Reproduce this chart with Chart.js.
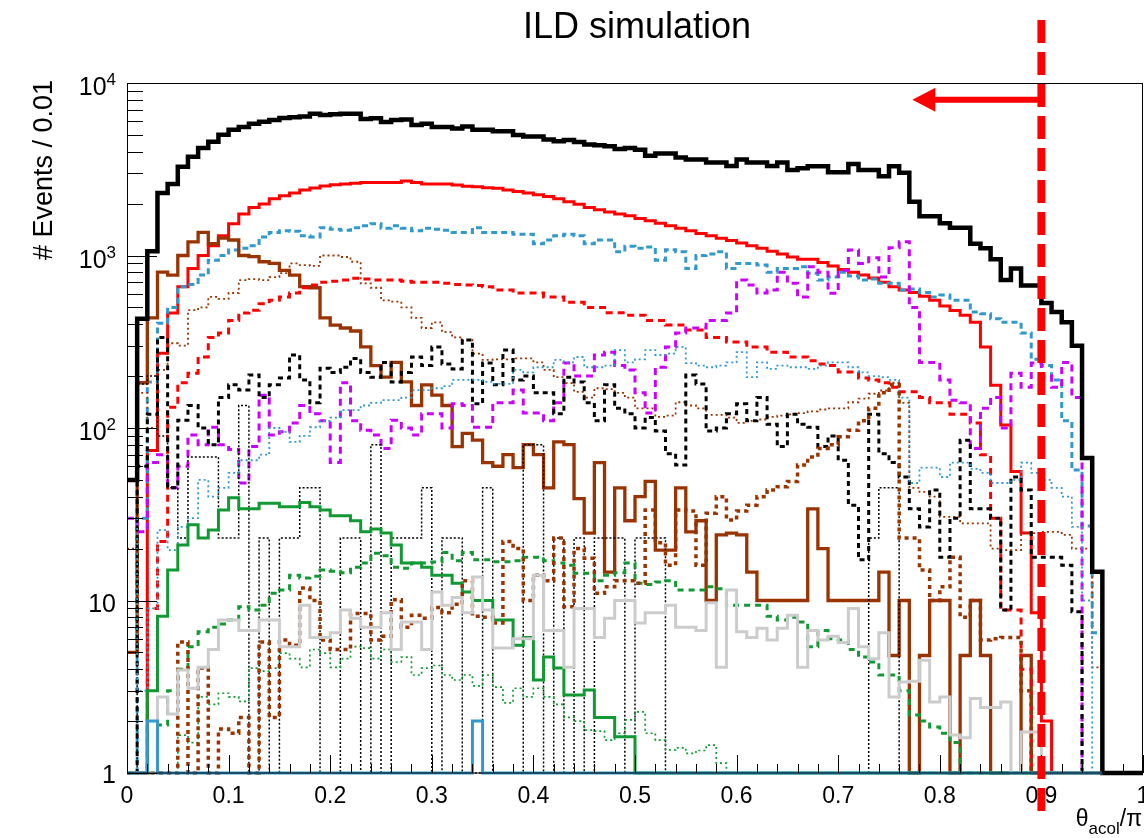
<!DOCTYPE html>
<html>
<head>
<meta charset="utf-8">
<title>ILD simulation</title>
<script src="https://cdn.jsdelivr.net/npm/chart.js@4.4.1/dist/chart.umd.min.js"></script>
<style>
  html, body { margin: 0; padding: 0; background: #fff; overflow: hidden; }
  #c { display: block; }
</style>
</head>
<body>
<canvas id="c" width="1144" height="838"></canvas>
<script>
// Events per bin, 100 bins of 0.01 in theta_acol/pi, 0 = empty bin
var blackSolid = [
  50, 430, 1060, 2300, 2600, 3270, 3740, 4200, 4560, 5020,
  5350, 5550, 5800, 5960, 6100, 6260, 6340, 6400, 6640, 6520,
  6600, 6640, 6640, 6190, 6250, 5950, 6100, 6150, 5700, 5800,
  5550, 5550, 5450, 5600, 5350, 5350, 5250, 5250, 5000, 4900,
  4900, 4700, 4600, 4680, 4550, 4400, 4360, 4300, 4150, 4200,
  4100, 3790, 3900, 3900, 3700, 3600, 3600, 3460, 3460, 3300,
  3600, 3460, 3460, 3300, 3460, 3130, 3200, 3290, 3290, 3040,
  3040, 3390, 3130, 3130, 2880, 3290, 3020, 2050, 1690, 1690,
  1540, 1450, 1450, 1170, 1100, 950, 720, 840, 670, 670,
  530, 470, 410, 300, 67, 14.7, 0, 0, 0, 0
];
var redSolid = [
  0, 0, 74, 271, 464, 660, 840, 1000, 1140, 1300,
  1530, 1740, 1900, 1990, 2130, 2220, 2300, 2400, 2460, 2530,
  2570, 2600, 2620, 2650, 2650, 2650, 2650, 2700, 2650, 2600,
  2600, 2600, 2560, 2520, 2500, 2470, 2450, 2400, 2350, 2300,
  2250, 2200, 2130, 2050, 1980, 1900, 1840, 1790, 1740, 1700,
  1640, 1590, 1540, 1490, 1440, 1390, 1340, 1300, 1260, 1220,
  1180, 1140, 1100, 1060, 1020, 980, 950, 950, 910, 870,
  830, 800, 770, 740, 700, 660, 630, 610, 580, 550,
  510, 480, 450, 410, 295, 177, 104, 56, 24.6, 8.5,
  2, 0, 0, 0, 0, 0, 0, 0, 0, 0
];
var blueDashed = [
  0, 30, 185, 405, 500, 660, 680, 770, 940, 1000,
  1076, 1100, 1140, 1280, 1360, 1390, 1380, 1300, 1280, 1450,
  1420, 1400, 1450, 1490, 1530, 1440, 1490, 1440, 1390, 1440,
  1420, 1400, 1360, 1360, 1450, 1360, 1360, 1360, 1330, 1330,
  1170, 1230, 1300, 1330, 1300, 1170, 1230, 1230, 1050, 1130,
  1100, 1120, 940, 1080, 1050, 840, 1000, 1020, 1050, 840,
  900, 900, 880, 800, 840, 840, 860, 790, 720, 750,
  800, 760, 720, 730, 690, 690, 630, 640, 610, 575,
  590, 550, 550, 470, 460, 430, 410, 410, 355, 250,
  230, 190, 110, 57, 27, 6.5, 0, 0, 0, 0
];
var brownSolid = [
  5, 183, 435, 800, 770, 1000, 1200, 1360, 1170, 1260,
  1230, 1000, 985, 920, 900, 820, 770, 660, 650, 435,
  395, 380, 365, 295, 230, 197, 240, 185, 135, 178,
  155, 135, 78, 93, 85, 63, 60, 70, 59, 80,
  70, 45, 83, 80, 39, 24.6, 63, 14.6, 45, 29,
  40, 49, 19.6, 19.6, 45, 25, 29, 10, 24, 24.6,
  24, 14.6, 10, 10, 10, 10, 10, 34, 20, 10,
  10, 10, 10, 10, 14.6, 4.8, 10, 0, 4.8, 10,
  10, 0, 4.8, 10, 4.8, 0, 0, 0, 4.8, 0,
  0, 0, 0, 0, 0, 0, 0, 0, 0, 0
];
var brownDotted = [
  20, 160, 100, 217, 310, 300, 482, 500, 575, 560,
  606, 720, 730, 720, 750, 790, 900, 880, 870, 1000,
  1000, 980, 920, 690, 650, 550, 540, 500, 435, 380,
  410, 360, 335, 324, 270, 248, 250, 250, 253, 253,
  240, 217, 197, 182, 162, 150, 170, 168, 160, 150,
  130, 130, 116, 118, 141, 135, 130, 119, 119, 115,
  107, 110, 112, 116, 118, 120, 122, 125, 128, 130,
  130, 141, 148, 158, 165, 183, 140, 45, 42.6, 40,
  30.5, 30.5, 28, 28, 28, 20, 19.6, 19.6, 24.6, 24.6,
  25, 25, 24, 20, 20, 4.1, 0, 0, 0, 0
];
var redDashed = [
  0, 0, 9, 22, 132, 183, 208, 258, 335, 355,
  420, 464, 482, 525, 550, 575, 606, 650, 675, 700,
  710, 720, 738, 730, 720, 720, 720, 710, 700, 700,
  700, 690, 680, 675, 670, 660, 630, 630, 606, 606,
  606, 575, 575, 535, 535, 500, 500, 465, 465, 450,
  450, 420, 420, 395, 395, 370, 370, 335, 335, 315,
  315, 295, 295, 275, 275, 258, 258, 245, 235, 230,
  211, 211, 195, 190, 183, 172, 162, 162, 150, 140,
  140, 120, 120, 107, 70, 30, 8.8, 8.8, 4, 0,
  0, 0, 0, 0, 0, 0, 0, 0, 0, 0
];
var magentaDashed = [
  30, 25, 63, 70, 45, 60, 91, 80, 101, 80,
  75, 48, 78, 155, 91, 95, 107, 135, 121, 110,
  63, 183, 110, 97, 91, 76, 111, 100, 91, 121,
  121, 100, 138, 135, 101, 101, 140, 140, 166, 122,
  122, 110, 140, 238, 200, 200, 265, 275, 230, 217,
  160, 122, 225, 295, 355, 380, 380, 420, 420, 464,
  720, 675, 606, 630, 800, 690, 575, 860, 800, 605,
  820, 1076, 900, 970, 750, 1110, 1200, 500, 240, 240,
  190, 145, 140, 76, 130, 150, 100, 208, 172, 238,
  200, 172, 240, 150, 0, 0, 0, 0, 0, 0
];
var blackDashed = [
  0, 60, 120, 335, 45, 111, 135, 100, 80, 150,
  178, 166, 203, 150, 178, 195, 265, 190, 140, 222,
  210, 225, 253, 210, 197, 240, 185, 210, 258, 230,
  295, 235, 220, 324, 138, 238, 178, 283, 190, 200,
  160, 160, 121, 197, 185, 140, 110, 178, 130, 121,
  100, 115, 96, 71, 61, 203, 180, 96, 100, 121,
  138, 110, 150, 105, 78, 120, 105, 101, 78, 90,
  65, 35.7, 17.2, 120, 71, 63, 52, 34, 26.7, 43.7,
  17.8, 30, 85, 34, 34, 30, 8.8, 52, 43.7, 17.8,
  17.8, 17.8, 16, 8.6, 0, 0, 0, 0, 0, 0
];
var blackDotted = [
  0, 180, 200, 90, 45, 23, 68, 68, 68, 23,
  23, 135, 0, 23, 0, 23, 23, 45, 45, 0,
  0, 23, 23, 0, 80, 0, 23, 23, 23, 45,
  0, 23, 23, 0, 0, 45, 0, 0, 0, 80,
  80, 0, 23, 0, 23, 0, 23, 23, 23, 0,
  23, 23, 23, 0, 0, 0, 0, 0, 0, 0,
  0, 0, 0, 0, 0, 0, 0, 0, 0, 0,
  0, 0, 0, 23, 45, 45, 0, 0, 0, 0,
  0, 0, 0, 0, 0, 0, 0, 0, 0, 0,
  0, 0, 0, 0, 0, 0, 0, 0, 0, 0
];
var blueDotted = [
  30, 3, 9, 25.6, 19.6, 26.7, 30, 50, 40, 45,
  55, 65, 65, 70, 100, 95, 83, 90, 101, 110,
  115, 127, 127, 135, 140, 145, 145, 150, 166, 166,
  170, 175, 190, 190, 190, 185, 180, 180, 217, 210,
  225, 225, 248, 240, 258, 225, 225, 230, 283, 240,
  250, 283, 265, 270, 295, 238, 230, 225, 230, 240,
  275, 197, 240, 220, 230, 225, 225, 220, 230, 240,
  240, 225, 210, 200, 197, 190, 150, 48, 59, 59,
  52, 63, 63, 58, 55, 48, 48, 50, 63, 55,
  50, 45, 40, 26.7, 10, 0, 0, 0, 0, 0
];
var greenSolid = [
  0, 0, 3, 8.1, 15, 21, 27.5, 23, 25.6, 33.5,
  39.4, 34, 34, 36.6, 36.6, 35, 35, 37, 35, 33.5,
  31, 31, 29, 25, 26, 24.6, 21, 16.5, 16.5, 15.6,
  14, 14, 12.6, 11.2, 10, 10, 7.7, 7.7, 5.5, 6.1,
  3.46, 4.7, 4.06, 2.83, 2.83, 3.03, 2.1, 2.1, 1.62, 1.62,
  0, 0, 0, 0, 0, 0, 0, 0, 0, 0,
  0, 0, 0, 0, 0, 0, 0, 0, 0, 0,
  0, 0, 0, 0, 0, 0, 0, 0, 0, 0,
  0, 0, 0, 0, 0, 0, 0, 0, 0, 0,
  0, 0, 0, 0, 0, 0, 0, 0, 0, 0
];
var greenDashed = [
  0, 0, 0, 1.9, 3, 4, 5.4, 6.6, 7, 7.3,
  7.7, 9.2, 8.8, 9.4, 11, 11.5, 14, 13.5, 13.8, 15,
  14.8, 14.5, 15.6, 16.5, 18.8, 18.2, 15.6, 15.4, 16.5, 16.5,
  16.7, 19, 17, 19, 17.2, 17.2, 16.8, 16.8, 17, 17.8,
  17.8, 17, 16.5, 16, 14.4, 14.4, 13, 14, 14.5, 16.5,
  12.6, 12.4, 12.8, 13, 11.5, 11.5, 11.5, 12, 11.7, 9.4,
  9.4, 9.4, 9.4, 8.1, 7.7, 8, 7.5, 5.4, 6.7, 6,
  5.9, 5.2, 4.7, 4.4, 3.7, 3.7, 3, 2.17, 2, 1.85,
  1.7, 1.5, 0, 0, 0, 0, 0, 0, 0, 0,
  0, 0, 0, 0, 0, 0, 0, 0, 0, 0
];
var greenDotted = [
  0, 0, 0, 0, 0, 1.66, 1.5, 2.76, 2.5, 2.9,
  2.76, 2.6, 4.06, 3.9, 4.06, 4.95, 4.6, 4.1, 5.2, 4.95,
  4.1, 4.6, 5.4, 5.3, 4.6, 5.2, 4.4, 4.7, 3.7, 4.06,
  4.2, 3.7, 3.46, 3.7, 3.2, 3.7, 3.15, 2.55, 3.1, 2.76,
  3.1, 2.76, 2.5, 2.1, 2.0, 1.77, 1.75, 1.55, 1.7, 2.03,
  2.26, 1.7, 1.55, 1.36, 1.4, 1.3, 1.35, 1.45, 1.14, 0,
  0, 0, 0, 0, 0, 0, 0, 0, 0, 0,
  0, 0, 0, 0, 0, 0, 0, 0, 0, 0,
  0, 0, 0, 0, 0, 0, 0, 0, 0, 0,
  0, 0, 0, 0, 0, 0, 0, 0, 0, 0
];
var brownDashed = [
  0, 0, 0, 0, 0, 5.75, 0, 4.06, 0, 1.8,
  1.7, 2.1, 0, 5.75, 2.1, 5.9, 5.5, 11.8, 10, 5.9,
  5.2, 5.2, 8.4, 8.4, 5.9, 6.2, 10.1, 7, 8.2, 7.9,
  9.1, 8.5, 9.5, 13, 8.1, 8, 7.4, 22, 20, 10,
  14, 13, 23, 9.2, 20, 17.6, 11, 12, 13, 13,
  12.6, 33.5, 21.6, 16, 33.5, 33, 16, 32, 40, 29.3,
  33, 35.7, 40, 43.7, 45.7, 49, 61, 68, 76, 80,
  89, 97, 110, 130, 160, 178, 23, 23, 15, 10,
  12, 17.8, 8, 10, 5.9, 6, 6.1, 6.1, 3, 0,
  0, 0, 0, 0, 0, 0, 0, 0, 0, 0
];
var graySolid = [
  0, 0, 0, 2.76, 2.2, 3.95, 3.1, 4.1, 5.2, 7.7,
  7.7, 6.7, 6.7, 7.7, 7.7, 5.4, 5.4, 9.4, 6.1, 6.1,
  6.5, 8.8, 7.9, 7, 7, 8.5, 5.2, 7.5, 7.5, 5.2,
  11.2, 9.4, 10.4, 8.5, 13.7, 8.8, 5.3, 5.3, 6, 6,
  14, 6.7, 6.7, 4.1, 9, 9, 6.1, 7.9, 10, 10,
  7.4, 8.5, 8.5, 9.4, 7, 7, 6.7, 9.7, 4.1, 11.5,
  6.6, 6.1, 6.9, 5.9, 6.9, 8.2, 4.1, 6.7, 5.9, 6.2,
  5.7, 9, 5.4, 4.6, 6.5, 2.76, 3.37, 3.4, 4.5, 2.58,
  2.76, 1.66, 1.6, 2.7, 2.4, 2.4, 2.58, 0, 1.73, 1.73,
  0, 0, 0, 0, 0, 0, 0, 0, 0, 0
];
var blueSolid = [
  0, 0, 2, 0, 0, 0, 0, 0, 0, 0,
  0, 0, 0, 0, 0, 0, 0, 0, 0, 0,
  0, 0, 0, 0, 0, 0, 0, 0, 0, 0,
  0, 0, 0, 0, 2, 0, 0, 0, 0, 0,
  0, 0, 0, 0, 0, 0, 0, 0, 0, 0,
  0, 0, 0, 0, 0, 0, 0, 0, 0, 0,
  0, 0, 0, 0, 0, 0, 0, 0, 0, 0,
  0, 0, 0, 0, 0, 0, 0, 0, 0, 0,
  0, 0, 0, 0, 0, 0, 0, 0, 0, 0,
  0, 0, 0, 0, 0, 0
];

var xTickLabels = ['0', '0.1', '0.2', '0.3', '0.4', '0.5', '0.6', '0.7', '0.8', '0.9', '1'];
var yDecades = [0, 1, 2, 3, 4];
var cutValue = 0.9;        // selection cut on theta_acol/pi
var arrowTip = 0.773;      // arrow points to the kept side
var arrowLevel = 8000;

var FONT = '"Liberation Sans", Arial, Helvetica, sans-serif';

// turn bin contents into step points; empty bins sit on the axis floor
function histPoints(vals) {
  var pts = vals.map(function(v, i) {
    return { x: i / 100, y: v > 0 ? v : 1 };
  });
  pts.push({ x: vals.length / 100, y: pts[pts.length - 1].y });
  return pts;
}

function hist(vals, color, width, dash) {
  return {
    data: histPoints(vals),
    borderColor: color,
    borderWidth: width,
    borderDash: dash || [],
    stepped: true,
    pointRadius: 0,
    fill: false,
    clip: { left: 0, top: 0, right: 0, bottom: 3 }
  };
}

// frame, inward ticks and labels drawn in the ROOT way
var rootAxes = {
  id: 'rootAxes',
  afterDatasetsDraw: function(chart) {
    var ctx = chart.ctx, a = chart.chartArea;
    var xs = chart.scales.x, ys = chart.scales.y;
    ctx.save();
    ctx.setLineDash([]);
    ctx.strokeStyle = '#000';
    ctx.lineWidth = 1;
    ctx.strokeRect(a.left + 0.5, a.top + 0.5, a.right - a.left - 1, a.bottom - a.top - 0.5);

    // x ticks every 0.02, labelled every 0.1
    ctx.beginPath();
    for (var i = 0; i <= 50; i++) {
      var px = Math.round(xs.getPixelForValue(i * 0.02)) + 0.5;
      var len = (i % 5 === 0) ? 18 : 9;
      ctx.moveTo(px, a.bottom);
      ctx.lineTo(px, a.bottom - len);
    }
    // y ticks: decades long, 2..9 short
    yDecades.forEach(function(d) {
      var py = Math.round(ys.getPixelForValue(Math.pow(10, d))) + 0.5;
      ctx.moveTo(a.left, py);
      ctx.lineTo(a.left + 30, py);
      if (d < 4) {
        for (var k = 2; k <= 9; k++) {
          var pm = Math.round(ys.getPixelForValue(k * Math.pow(10, d))) + 0.5;
          ctx.moveTo(a.left, pm);
          ctx.lineTo(a.left + 16, pm);
        }
      }
    });
    ctx.stroke();

    ctx.fillStyle = '#000';
    ctx.font = '23px ' + FONT;
    ctx.textAlign = 'center';
    ctx.textBaseline = 'alphabetic';
    xTickLabels.forEach(function(lbl, i) {
      ctx.fillText(lbl, xs.getPixelForValue(i / 10), a.bottom + 30);
    });

    ctx.textAlign = 'right';
    yDecades.forEach(function(d) {
      var py = ys.getPixelForValue(Math.pow(10, d));
      var right = a.left - 11;
      if (d === 0) {
        ctx.font = '25px ' + FONT;
        ctx.fillText('1', right, py + 10);
      } else if (d === 1) {
        ctx.font = '25px ' + FONT;
        ctx.fillText('10', right, py + 11);
      } else {
        ctx.font = '17px ' + FONT;
        var sup = String(d);
        var sw = ctx.measureText(sup).width;
        ctx.fillText(sup, right, py + 2);
        ctx.font = '25px ' + FONT;
        ctx.fillText('10', right - sw, py + 12);
      }
    });

    // axis titles
    ctx.save();
    ctx.translate(52, 80);
    ctx.rotate(-Math.PI / 2);
    ctx.font = '27px ' + FONT;
    ctx.textAlign = 'right';
    ctx.fillText('# Events / 0.01', 0, 0);
    ctx.restore();

    ctx.textAlign = 'left';
    ctx.font = '23px ' + FONT;
    var w1 = ctx.measureText('\u03b8').width;
    var w3 = ctx.measureText('/\u03c0').width;
    ctx.font = '17px ' + FONT;
    var w2 = ctx.measureText('acol').width;
    var x0 = a.right - 1 - (w1 + w2 + w3);
    ctx.font = '23px ' + FONT;
    ctx.fillText('\u03b8', x0, 826);
    ctx.fillText('/\u03c0', x0 + w1 + w2, 826);
    ctx.font = '17px ' + FONT;
    ctx.fillText('acol', x0 + w1, 834);

    // title
    ctx.font = '36px ' + FONT;
    ctx.textAlign = 'center';
    ctx.fillText('ILD simulation', 637, 38);

    // cut line and arrow
    var cx = xs.getPixelForValue(cutValue);
    ctx.strokeStyle = '#ff0000';
    ctx.lineWidth = 8;
    ctx.setLineDash([23, 9]);
    ctx.beginPath();
    ctx.moveTo(cx, 20);
    ctx.lineTo(cx, 812);
    ctx.stroke();

    var ay = ys.getPixelForValue(arrowLevel);
    var tip = xs.getPixelForValue(arrowTip);
    ctx.setLineDash([]);
    ctx.lineWidth = 6;
    ctx.beginPath();
    ctx.moveTo(cx, ay);
    ctx.lineTo(tip + 20, ay);
    ctx.stroke();
    ctx.fillStyle = '#ff0000';
    ctx.beginPath();
    ctx.moveTo(tip, ay);
    ctx.lineTo(tip + 23, ay - 12);
    ctx.lineTo(tip + 23, ay + 12);
    ctx.closePath();
    ctx.fill();
    ctx.restore();
  }
};

// first dataset ends up on top
var datasets = [
  hist(blueSolid, '#3399cc', 3),
  hist(blackSolid, '#000000', 4.5),
  hist(graySolid, '#cccccc', 3),
  hist(brownDashed, '#993300', 3.5, [4, 4]),
  hist(greenDotted, '#119933', 1.7, [2, 3]),
  hist(greenDashed, '#119933', 3, [6, 5]),
  hist(greenSolid, '#119933', 3),
  hist(blueDotted, '#3399cc', 1.8, [2, 3]),
  hist(blackDotted, '#000000', 1.5, [2, 2]),
  hist(blackDashed, '#000000', 3, [5, 4]),
  hist(magentaDashed, '#cc00ff', 3, [7, 5]),
  hist(redDashed, '#ff0000', 3, [7, 5]),
  hist(brownDotted, '#993300', 1.8, [2, 3]),
  hist(brownSolid, '#993300', 3.3),
  hist(blueDashed, '#3399cc', 3, [6, 4]),
  hist(redSolid, '#ff0000', 3)
];

new Chart(document.getElementById('c').getContext('2d'), {
  type: 'line',
  data: { datasets: datasets },
  options: {
    responsive: false,
    animation: false,
    events: [],
    layout: { padding: { left: 127, top: 83, right: 1, bottom: 65 } },
    plugins: { legend: { display: false }, tooltip: { enabled: false }, title: { display: false } },
    scales: {
      x: { type: 'linear', min: 0, max: 1, display: false },
      y: { type: 'logarithmic', min: 1, max: 10000, display: false }
    }
  },
  plugins: [rootAxes]
});
</script>
</body>
</html>
